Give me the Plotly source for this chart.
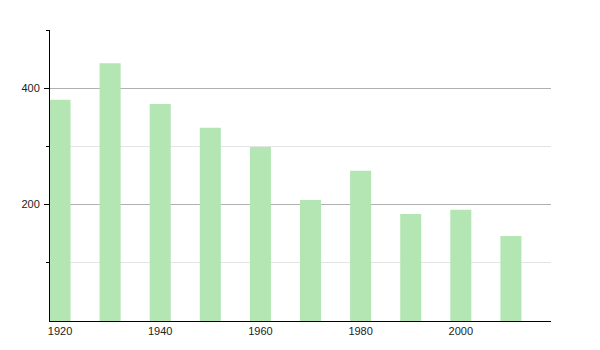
import plotly.graph_objects as go

years = [1920, 1930, 1940, 1950, 1960, 1970, 1980, 1990, 2000, 2010]
population = [380, 443, 373, 332, 299, 208, 258, 184, 191, 146]
x_tick_vals = [1920, 1940, 1960, 1980, 2000]
y_major_ticks = [200, 400]
y_minor_ticks = [100, 300, 500]

fig = go.Figure(
    go.Bar(
        x=years,
        y=population,
        width=4.2,
        marker=dict(color="#b3e6b3", line=dict(width=0)),
        hoverinfo="x+y",
    )
)

fig.update_layout(
    width=600,
    height=350,
    margin=dict(l=50, r=49, t=30, b=29),
    paper_bgcolor="white",
    plot_bgcolor="white",
    showlegend=False,
    font=dict(family="Liberation Sans, Arial, sans-serif", size=11, color="#222"),
)

fig.update_xaxes(
    range=[1918, 2018],
    tickmode="array",
    tickvals=x_tick_vals,
    ticktext=[str(v) for v in x_tick_vals],
    showgrid=False,
    showline=True,
    linecolor="black",
    linewidth=1,
    ticks="",
    zeroline=False,
)

fig.update_yaxes(
    range=[0, 500],
    tickmode="array",
    tickvals=y_major_ticks,
    ticktext=[str(v) for v in y_major_ticks],
    showgrid=True,
    gridcolor="#b0b0b0",
    gridwidth=1,
    showline=True,
    linecolor="black",
    linewidth=1,
    ticks="outside",
    ticklen=5,
    tickcolor="black",
    ticklabelstandoff=2,
    zeroline=False,
    minor=dict(
        tickmode="array",
        tickvals=y_minor_ticks,
        showgrid=True,
        gridcolor="#e4e4e4",
        gridwidth=1,
        ticks="outside",
        ticklen=3,
        tickcolor="black",
    ),
)

fig.write_html("out.html")
